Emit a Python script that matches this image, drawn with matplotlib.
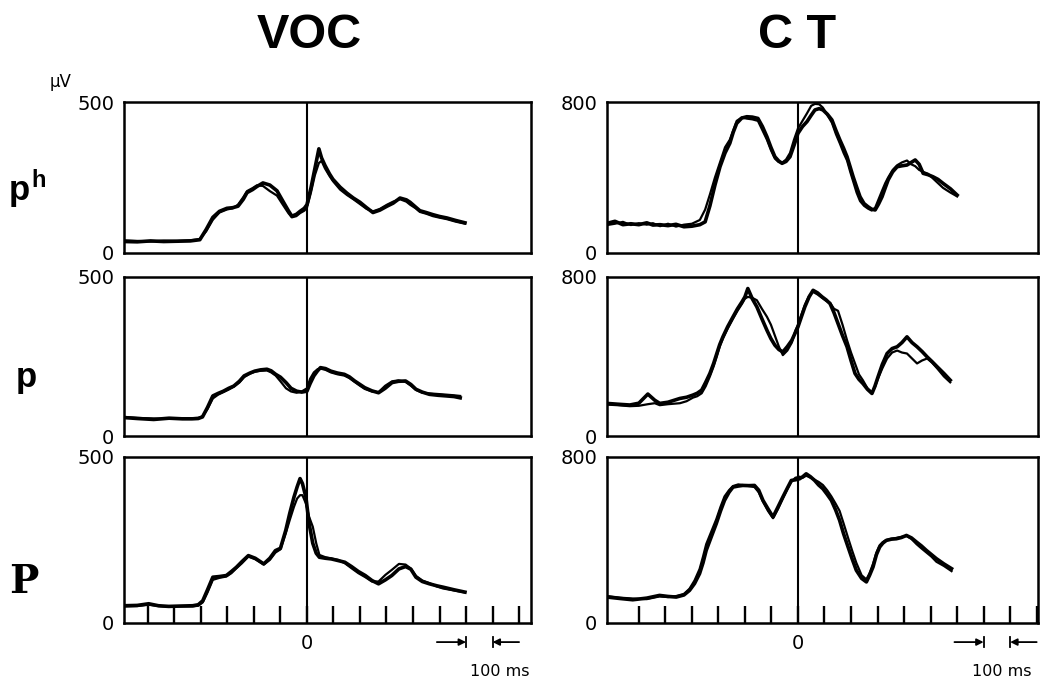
import matplotlib
matplotlib.use("Agg")
import matplotlib.pyplot as plt
import numpy as np

# VOC, p^h
voc_ph_t = [-690, -640, -590, -540, -490, -440, -404, -380, -355, -330, -302, -280, -260, -240, -226, -205,
            -189, -166, -140, -113, -91, -70, -57, -40, -26, -10, 0, 15, 30, 45, 55, 68, 85, 98, 125, 151,
            175, 200, 225, 249, 275, 302, 325, 351, 375, 389, 410, 426, 450, 475, 500, 528, 560, 596]
voc_ph_a = [38, 37, 40, 38, 39, 40, 44, 78, 118, 138, 148, 150, 155, 178, 200, 210,
            220, 232, 225, 206, 172, 140, 122, 128, 138, 148, 160, 215, 280, 345, 315, 290, 262, 244, 218, 198,
            182, 168, 150, 134, 142, 155, 165, 182, 176, 168, 152, 140, 134, 127, 121, 116, 108, 100]
voc_ph_b = [42, 40, 38, 41, 40, 42, 46, 72, 110, 134, 144, 148, 160, 185, 205, 215,
            224, 222, 205, 190, 160, 132, 118, 122, 132, 140, 150, 200, 258, 298, 305, 280, 255, 238, 210, 192,
            178, 162, 146, 138, 146, 160, 170, 178, 170, 160, 148, 136, 130, 122, 117, 112, 104, 97]

# VOC, p
voc_p_t = [-690, -640, -578, -520, -470, -434, -410, -394, -375, -355, -335, -315, -295, -276, -255, -237,
           -215, -197, -175, -151, -135, -118, -100, -79, -60, -39, -20, 0, 12, 26, 40, 51, 70, 90, 115, 141,
           160, 180, 200, 218, 245, 270, 295, 321, 345, 372, 392, 411, 435, 462, 495, 526, 555, 578]
voc_p_a = [58, 55, 52, 56, 54, 54, 55, 60, 90, 126, 134, 141, 150, 157, 172, 189,
           198, 204, 208, 210, 205, 194, 185, 168, 150, 141, 138, 141, 165, 189, 205, 215, 212, 204, 198, 194,
           186, 173, 162, 152, 142, 136, 150, 168, 172, 173, 162, 147, 138, 131, 128, 126, 124, 120]
voc_p_b = [60, 57, 55, 54, 56, 56, 57, 62, 85, 118, 130, 138, 146, 155, 168, 185,
           196, 202, 205, 206, 200, 190, 172, 150, 140, 136, 140, 150, 180, 200, 210, 212, 208, 200, 194, 190,
           182, 170, 158, 148, 140, 138, 158, 172, 175, 170, 158, 145, 136, 134, 132, 130, 128, 126]

# VOC, P
voc_P_t = [-690, -640, -597, -560, -521, -480, -431, -410, -393, -375, -355, -330, -304, -285, -266, -245,
           -221, -195, -163, -140, -119, -100, -80, -65, -49, -37, -26, -17, -4, 8, 22, 35, 47, 70, 92, 118,
           143, 168, 194, 220, 245, 270, 296, 320, 347, 372, 392, 411, 435, 462, 490, 513, 555, 596]
voc_P_a = [52, 53, 58, 52, 50, 51, 52, 55, 67, 100, 138, 140, 143, 155, 168, 185,
           203, 195, 178, 195, 218, 225, 279, 330, 379, 410, 435, 420, 379, 300, 240, 210, 198, 195, 193, 188,
           183, 170, 155, 143, 128, 118, 130, 143, 163, 170, 162, 138, 125, 118, 112, 108, 100, 93]
voc_P_b = [50, 51, 55, 51, 49, 50, 50, 52, 62, 92, 130, 136, 140, 150, 165, 180,
           200, 192, 176, 190, 212, 222, 270, 310, 350, 375, 385, 385, 360, 320, 290, 240, 205, 198, 194, 190,
           180, 165, 150, 138, 125, 125, 145, 160, 178, 176, 164, 142, 128, 120, 110, 104, 98, 92]

# CT, p^h
ct_ph_t = [-720, -690, -660, -630, -600, -570, -547, -520, -490, -460, -430, -400, -370, -350, -332, -313,
           -294, -275, -257, -244, -231, -212, -193, -172, -151, -134, -117, -102, -87, -73, -60, -45, -30,
           -15, 0, 17, 34, 50, 64, 80, 94, 111, 128, 143, 158, 172, 185, 197, 208, 221, 234, 249, 264, 278,
           291, 304, 317, 329, 340, 357, 374, 392, 411, 427, 442, 457, 472, 490, 509, 528, 547, 575, 600]
ct_ph_a = [157, 168, 150, 155, 150, 160, 148, 150, 145, 152, 139, 142, 150, 165, 250, 360,
           457, 530, 581, 640, 687, 715, 722, 720, 713, 670, 616, 560, 510, 488, 475, 485, 510,
           570, 634, 670, 696, 730, 758, 765, 758, 735, 705, 650, 599, 555, 510, 455, 404, 350, 298, 262, 245, 232,
           228, 260, 298, 345, 387, 430, 457, 462, 466, 480, 493, 470, 422, 415, 404, 390, 369, 340, 307]
ct_ph_b = [148, 155, 165, 148, 158, 150, 158, 142, 155, 140, 150, 155, 175, 230, 310, 400,
           480, 560, 600, 650, 700, 718, 712, 708, 700, 650, 600, 545, 500, 482, 478, 495, 530,
           600, 660, 700, 740, 780, 790, 788, 770, 730, 690, 630, 580, 530, 490, 430, 380, 320, 275, 250, 235, 225,
           240, 285, 330, 370, 400, 440, 465, 480, 490, 470, 460, 440, 430, 420, 395, 370, 345, 320, 300]

# CT, p
ct_p_t = [-720, -680, -634, -600, -566, -540, -521, -490, -445, -420, -396, -380, -363, -348, -332, -318,
          -306, -295, -283, -265, -245, -228, -211, -200, -189, -172, -155, -136, -117, -102, -87, -72, -57,
          -40, -23, -10, 0, 13, 26, 42, 57, 74, 91, 106, 121, 136, 151, 168, 185, 200, 215, 230, 245, 262,
          279, 290, 302, 318, 336, 355, 374, 392, 411, 430, 449, 468, 487, 505, 525, 550, 574]
ct_p_a = [164, 160, 156, 165, 211, 180, 164, 170, 189, 195, 206, 215, 231, 270, 315, 365,
          415, 460, 499, 550, 599, 640, 675, 700, 742, 690, 650, 590, 532, 490, 457, 435, 423,
          450, 482, 520, 549, 600, 650, 700, 733, 720, 700, 685, 666, 620, 566, 505, 449, 380, 315, 285, 264, 235,
          214, 250, 298, 360, 415, 440, 449, 470, 499, 470, 449, 425, 398, 375, 348, 315, 281]
ct_p_b = [158, 155, 150, 152, 160, 165, 155, 160, 165, 175, 193, 200, 215, 250, 300, 350,
          400, 450, 490, 540, 590, 630, 665, 691, 700, 695, 683, 640, 600, 560, 505, 450, 407,
          430, 470, 530, 560, 610, 660, 705, 725, 712, 695, 680, 670, 640, 630, 560, 482, 420, 365, 310, 280, 240,
          220, 245, 290, 340, 390, 420, 430, 420, 415, 390, 365, 380, 390, 370, 340, 300, 270]

# CT, P
ct_P_t = [-720, -670, -623, -570, -522, -490, -459, -430, -409, -390, -371, -358, -346, -327, -308, -292,
          -277, -260, -245, -225, -208, -185, -164, -148, -132, -113, -94, -75, -57, -40, -25, -10, 6, 18,
          31, 47, 63, 78, 94, 110, 126, 142, 157, 172, 189, 204, 220, 240, 258, 270, 283, 296, 308, 320, 333,
          352, 371, 390, 409, 428, 447, 465, 484, 503, 522, 550, 579]
ct_P_a = [125, 118, 112, 120, 133, 128, 125, 135, 157, 190, 238, 290, 350, 415, 479, 540,
          591, 630, 655, 660, 663, 662, 663, 640, 591, 550, 511, 560, 607, 650, 687, 690, 695, 705,
          719, 705, 687, 665, 647, 620, 591, 545, 495, 430, 366, 310, 254, 215, 198, 230, 270, 330, 366, 385, 398,
          404, 406, 412, 422, 410, 390, 372, 350, 330, 310, 285, 262]
ct_P_b = [130, 122, 118, 115, 128, 125, 130, 140, 165, 205, 260, 320, 380, 440, 500, 560,
          610, 640, 660, 668, 665, 660, 655, 630, 585, 540, 505, 550, 600, 645, 680, 700, 705, 700,
          710, 700, 690, 680, 665, 640, 610, 575, 540, 480, 410, 350, 290, 230, 210, 240, 285, 340, 375, 390, 400,
          406, 410, 415, 420, 405, 380, 360, 340, 320, 295, 275, 250]

col_titles = ["VOC", "C T"]
y_max = [500, 800]
x_range = [(-690, 845), (-720, 905)]
tick_range = [(-600, 800), (-600, 900)]
scale_bar = [(600, 700), (700, 800)]   # the 100 ms marker under each column
scale_text_x = [728, 770]

W, H = 1043, 682
fig = plt.figure(figsize=(W / 100, H / 100), dpi=100)

# panel boxes in pixels: (left, right) per column, (top, bottom) per row
col_px = [(124, 531), (607, 1038)]
row_px = [(102, 253), (277, 436), (457, 623)]

panels = [
    [(voc_ph_t, voc_ph_a, voc_ph_b), (ct_ph_t, ct_ph_a, ct_ph_b)],
    [(voc_p_t, voc_p_a, voc_p_b), (ct_p_t, ct_p_a, ct_p_b)],
    [(voc_P_t, voc_P_a, voc_P_b), (ct_P_t, ct_P_a, ct_P_b)],
]

for r, (top, bot) in enumerate(row_px):
    for c, (lft, rgt) in enumerate(col_px):
        ax = fig.add_axes([lft / W, 1 - bot / H, (rgt - lft) / W, (bot - top) / H])
        t, a, b = panels[r][c]
        ax.plot(t, b, color="black", lw=1.6, solid_joinstyle="round")
        ax.plot(t, a, color="black", lw=2.6, solid_joinstyle="round")
        ax.axvline(0, color="black", lw=1.5)
        ax.set_xlim(*x_range[c])
        ax.set_ylim(0, y_max[c])
        for s in ax.spines.values():
            s.set_linewidth(1.8)
        ax.set_yticks([0, y_max[c]])
        ax.set_yticklabels(["0", str(y_max[c])])
        ax.tick_params(axis="y", length=0, pad=7, labelsize=14)
        if r < 2:
            ax.set_xticks([])
        else:
            lo, hi = tick_range[c]
            ticks = np.arange(lo, hi + 1, 100)
            ax.set_xticks(ticks)
            ax.set_xticklabels(["0" if v == 0 else "" for v in ticks])
            ax.tick_params(axis="x", direction="in", length=12, width=1.7, pad=8, labelsize=14)
            trans = ax.get_xaxis_transform()
            s0, s1 = scale_bar[c]
            yb = -0.115
            ax.annotate("", xy=(s0, yb), xytext=(s0 - 110, yb), xycoords=trans,
                        arrowprops=dict(arrowstyle="-|>", lw=1.3, color="black",
                                        mutation_scale=10, shrinkA=0, shrinkB=0))
            ax.annotate("", xy=(s1, yb), xytext=(s1 + 100, yb), xycoords=trans,
                        arrowprops=dict(arrowstyle="-|>", lw=1.3, color="black",
                                        mutation_scale=10, shrinkA=0, shrinkB=0))
            for sx in (s0, s1):
                ax.plot([sx, sx], [yb - 0.03, yb + 0.03], color="black", lw=1.3,
                        transform=trans, clip_on=False)
            ax.text(scale_text_x[c], -0.295, "100 ms", transform=trans,
                    ha="center", va="center", fontsize=11.5)

# column titles, centred over the zero lines
for txt, xp in zip(col_titles, [309, 797]):
    fig.text(xp / W, 1 - 48 / H, txt, ha="center", va="baseline", fontsize=35,
             fontweight="bold", family=["Liberation Sans", "DejaVu Sans"])

fig.text(50 / W, 1 - 87 / H, "µV", ha="left", va="baseline", fontsize=12)

# row labels
fig.text(9 / W, 1 - 200 / H, "p", ha="left", va="baseline", fontsize=25,
         fontweight="bold", family=["Liberation Sans", "DejaVu Sans"])
fig.text(31 / W, 1 - 187 / H, "h", ha="left", va="baseline", fontsize=17,
         fontweight="bold", family=["Liberation Sans", "DejaVu Sans"])
fig.text(16 / W, 1 - 387 / H, "p", ha="left", va="baseline", fontsize=25,
         fontweight="bold", family=["Liberation Sans", "DejaVu Sans"])
fig.text(9 / W, 1 - 593 / H, "P", ha="left", va="baseline", fontsize=28,
         fontweight="bold", family=["DejaVu Serif"])

fig.savefig("out.png", dpi=100)
